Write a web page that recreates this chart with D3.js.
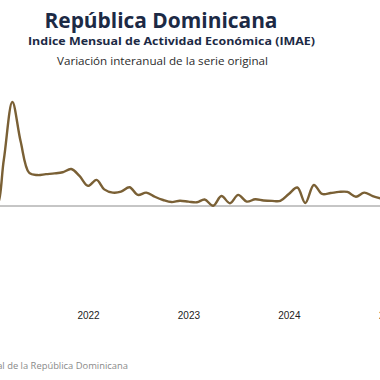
<!DOCTYPE html>
<html>
<head>
<meta charset="utf-8">
<script src="https://cdn.jsdelivr.net/npm/d3@7"></script>
<style>
html,body{margin:0;padding:0;background:#fff;}
svg{display:block;}
</style>
</head>
<body>
<svg id="chart" width="380" height="380"></svg>
<script>
const months = [
 "2021-01","2021-02","2021-03","2021-04","2021-05","2021-06","2021-07","2021-08","2021-09","2021-10","2021-11","2021-12",
 "2022-01","2022-02","2022-03","2022-04","2022-05","2022-06","2022-07","2022-08","2022-09","2022-10","2022-11","2022-12",
 "2023-01","2023-02","2023-03","2023-04","2023-05","2023-06","2023-07","2023-08","2023-09","2023-10","2023-11","2023-12",
 "2024-01","2024-02","2024-03","2024-04","2024-05","2024-06","2024-07","2024-08","2024-09","2024-10","2024-11","2024-12"
];
const values = [
 -1.5,-0.5,20.0,45.0,28.0,14.4,13.4,13.8,14.1,14.6,16.0,13.0,
 8.7,11.3,7.2,5.8,6.2,8.1,4.8,5.8,4.0,2.6,1.7,2.3,
 1.9,1.6,2.8,0.1,4.3,1.2,4.8,1.9,2.9,2.4,2.2,2.2,
 5.2,8.0,1.3,9.1,5.2,5.6,6.1,6.1,4.0,5.8,4.3,3.2
];
const tickYears = ["2022","2023","2024","2025"];
const title = "República Dominicana";
const subtitle = "Indice Mensual de Actividad Económica (IMAE)";
const subtitle2 = "Variación interanual de la serie original";
const source = "Fuente: Banco Central de la República Dominicana";

const parse = d3.timeParse("%Y-%m");
const data = months.map((m,i)=>({date:parse(m), value:values[i]}));

const svg = d3.select("#chart");
const x = d3.scaleTime().domain([parse("2022-01"), parse("2025-01")]).range([88, 389.5]);
const y = d3.scaleLinear().domain([-30, 50]).range([275.3, 90.5]);

// zero line
svg.append("line")
  .attr("x1", 0).attr("x2", 380)
  .attr("y1", y(0)).attr("y2", y(0))
  .attr("stroke", "#8c8c8c").attr("stroke-width", 1);

// series
const line = d3.line().x(d=>x(d.date)).y(d=>y(d.value)).curve(d3.curveCatmullRom.alpha(0.5));
svg.append("path").datum(data)
  .attr("d", line)
  .attr("fill", "none")
  .attr("stroke", "#7a6035")
  .attr("stroke-width", 2.4)
  .attr("stroke-linejoin", "round");

// x axis
const ax = d3.axisBottom(x)
  .tickValues(tickYears.map(t=>parse(t+"-01")))
  .tickFormat(d=>d3.timeFormat("%Y")(d))
  .tickSize(0).tickPadding(0);
const g = svg.append("g").attr("transform", "translate(0,312)").call(ax);
g.select(".domain").remove();
g.selectAll("text")
  .attr("font-family", "Liberation Sans, Arial, sans-serif")
  .attr("font-size", 10)
  .attr("fill", "#222")
  .attr("dy", "0.71em");

// titles
svg.append("text").attr("x", 161).attr("y", 28)
  .attr("text-anchor", "middle")
  .attr("font-family", "Open Sans, sans-serif")
  .attr("font-weight", "bold")
  .attr("font-size", 21)
  .attr("fill", "#1c2a45")
  .attr("textLength", 233).attr("lengthAdjust", "spacingAndGlyphs")
  .text(title);
svg.append("text").attr("x", 171.5).attr("y", 45)
  .attr("text-anchor", "middle")
  .attr("font-family", "Open Sans, sans-serif")
  .attr("font-weight", "bold")
  .attr("font-size", 11)
  .attr("fill", "#1c2a45")
  .attr("textLength", 287).attr("lengthAdjust", "spacingAndGlyphs")
  .text(subtitle);
svg.append("text").attr("x", 162.5).attr("y", 65)
  .attr("text-anchor", "middle")
  .attr("font-family", "Open Sans, sans-serif")
  .attr("font-size", 10.8)
  .attr("fill", "#2b2b2b")
  .attr("textLength", 211).attr("lengthAdjust", "spacingAndGlyphs")
  .text(subtitle2);

// source
svg.append("text").attr("x", 128).attr("y", 369)
  .attr("text-anchor", "end")
  .attr("font-family", "Open Sans, sans-serif")
  .attr("font-size", 9.4)
  .attr("fill", "#8a8a8a")
  .text(source);
</script>
</body>
</html>
